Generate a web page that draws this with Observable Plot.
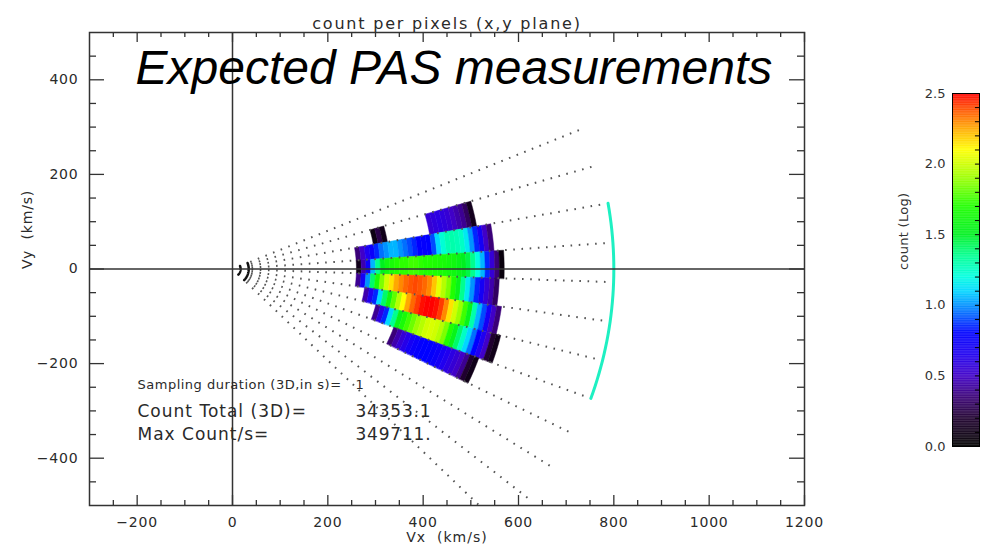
<!DOCTYPE html>
<html><head><meta charset="utf-8">
<script src="https://cdn.jsdelivr.net/npm/d3@7"></script>
<script src="https://cdn.jsdelivr.net/npm/@observablehq/plot@0.6"></script>
<style>
body{margin:0;background:#fff;}
#wrap{position:relative;width:994px;height:552px;background:#fff;}
#wrap svg{position:absolute;left:0;top:0;}
#wrap text{white-space:pre;}
</style></head><body><div id="wrap"></div>
<script>
// ---- axes / ticks ----
const xDomain = [-300, 1200];
const yDomain = [-500, 500];
const xMajorTicks = [-200, 0, 200, 400, 600, 800, 1000, 1200];
const yMajorTicks = [-400, -200, 0, 200, 400];
const colorbarTicks = [0, 0.5, 1.0, 1.5, 2.0, 2.5];

// ---- instrument geometry (degrees, km/s) ----
const rayAngles = [22, 16, 10, 4, -2, -8, -14, -20, -26, -32, -38, -44];
const rayRadius = 790;
const innerArcRadii = [17, 34];
const cyanArc = {r: 800, a0: -20, a1: 10};
const binWidth = 10;

// ---- heat-map sectors: angle range, first radius, log(count) per 10 km/s bin ----
const segAngles = [[10,16],[10,16],[4,10],[-2,4],[-8,-2],[-14,-8],[-20,-14],[-26,-20]];
const segStartR = [300, 420, 260, 260, 260, 280, 310, 360];
const segA1 = [0.08,0.25,0.1];
const segA2 = [0.55,0.58,0.6,0.58,0.55,0.5,0.45,0.4,0.3,0.12];
const segB  = [0.35,0.5,0.65,0.75,0.85,0.95,1.0,1.05,1.05,1.0,0.95,0.9,0.85,0.8,0.78,0.8,0.9,1.1,1.22,1.28,1.3,1.28,1.25,1.15,1.0,0.85,0.7,0.5,0.35];
const segC  = [0.1,0.45,0.75,1.05,1.35,1.5,1.6,1.65,1.7,1.72,1.72,1.75,1.75,1.72,1.7,1.7,1.68,1.66,1.65,1.62,1.6,1.55,1.5,1.45,1.35,1.2,1.05,0.85,0.55,0.35,0.05];
const segD  = [0.4,0.7,1.0,1.4,1.65,1.85,2.0,2.15,2.25,2.3,2.35,2.38,2.4,2.38,2.35,2.3,2.2,2.05,1.95,1.85,1.7,1.55,1.35,1.15,1.0,0.85,0.7,0.55,0.45,0.3];
const segE  = [0.45,0.65,0.85,1.1,1.4,1.6,1.8,1.95,2.1,2.25,2.35,2.42,2.48,2.5,2.5,2.48,2.42,2.3,2.15,2.0,1.9,1.75,1.55,1.3,1.05,0.9,0.7,0.5,0.35];
const segF  = [0.4,0.6,0.85,1.1,1.35,1.55,1.65,1.75,1.82,1.9,1.95,2.0,2.02,2.0,1.95,1.85,1.7,1.55,1.4,1.25,1.1,0.95,0.8,0.65,0.5,0.2,0.1];
const segG  = [0.35,0.45,0.55,0.62,0.7,0.75,0.78,0.8,0.8,0.78,0.75,0.7,0.65,0.6,0.55,0.5,0.4,0.2,0.1];
const segValues = [segA1, segA2, segB, segC, segD, segE, segF, segG];

// ---- colour table (IDL rainbow-like) ----
const cmapStops  = [0, 0.2, 0.35, 0.5, 0.65, 0.8, 0.95, 1.1, 1.2, 1.35, 1.5, 1.7, 1.88, 2.0, 2.1, 2.25, 2.4, 2.5];
const cmapColors = ["#000000","#200030","#3a0078","#4000c8","#2000f0","#0000ff","#0070ff","#00d8ff","#00ffe0","#00ff90","#00f020","#20ff00","#90ff00","#d0ff00","#ffff00","#ffa800","#ff4800","#ff0000"];

// ---- texts ----
const titleText = "count per pixels (x,y plane)";
const bigText = "Expected PAS measurements";
const xLabel = "Vx  (km/s)";
const yLabel = "Vy  (km/s)";
const cbLabel = "count (Log)";
const infoLabels = ["Sampling duration (3D,in s)=   1", "Count Total (3D)=", "Max Count/s="];
const infoValues = ["34353.1", "349711."];

const rad = d => d * Math.PI / 180;
const colorOpts = {type: "linear", domain: cmapStops, range: cmapColors, interpolate: "rgb", clamp: true};

// build cell polygons
const cells = [];
let cid = 0;
segValues.forEach((vals, s) => {
  const [a0, a1] = segAngles[s];
  vals.forEach((v, i) => {
    const r1 = segStartR[s] + i * binWidth, r2 = r1 + binWidth;
    const n = 4;
    for (let k = 0; k <= n; k++) { const a = rad(a0 + (a1 - a0) * k / n); cells.push({id: cid, x: r1 * Math.cos(a), y: r1 * Math.sin(a), v}); }
    for (let k = n; k >= 0; k--) { const a = rad(a0 + (a1 - a0) * k / n); cells.push({id: cid, x: r2 * Math.cos(a), y: r2 * Math.sin(a), v}); }
    cid++;
  });
});

const arcPts = (r, a0, a1, id) => d3.range(0, 31).map(j => { const a = rad(a0 + (a1 - a0) * j / 30); return {id, x: r * Math.cos(a), y: r * Math.sin(a)}; });
const innerArcs = innerArcRadii.flatMap((r, i) => arcPts(r, rayAngles[0], rayAngles[rayAngles.length - 1], i));
const cyanPts = arcPts(cyanArc.r, cyanArc.a0, cyanArc.a1, 0);

const xMinor = d3.range(-250, 1200, 50).filter(d => !xMajorTicks.includes(d));
const yMinor = d3.range(-450, 500, 50).filter(d => !yMajorTicks.includes(d));
const yPerPx = (yDomain[1] - yDomain[0]) / 473;
const xPerPx = (xDomain[1] - xDomain[0]) / 715;

const ink = "#2a2a2a";
const main = Plot.plot({
  width: 994, height: 552,
  marginLeft: 89, marginRight: 190, marginTop: 32, marginBottom: 47,
  x: {domain: xDomain},
  y: {domain: yDomain},
  color: colorOpts,
  style: {fontFamily: "DejaVu Sans", fontSize: "14px", color: ink, background: "transparent"},
  marks: [
    Plot.line(cells, {x: "x", y: "y", z: "id", fill: "v", stroke: "v", strokeWidth: 0.5, curve: "linear-closed", sort: null}),
    Plot.link(rayAngles, {x1: a => 40 * Math.cos(rad(a)), y1: a => 40 * Math.sin(rad(a)),
      x2: a => rayRadius * Math.cos(rad(a)), y2: a => rayRadius * Math.sin(rad(a)),
      stroke: "#555", strokeWidth: 2, strokeDasharray: "1.6,6.6", clip: true}),
    Plot.line(innerArcs, {x: "x", y: "y", z: "id", stroke: "#111", strokeWidth: 2.5}),
    Plot.line(cyanPts, {x: "x", y: "y", stroke: "#1ef0c2", strokeWidth: 3}),
    Plot.ruleX([0], {stroke: "#333", strokeWidth: 1.5}),
    Plot.ruleY([0], {stroke: "#333", strokeWidth: 1.5}),
    // inward ticks
    Plot.ruleX(xMajorTicks, {y1: yDomain[0], y2: yDomain[0] + 10 * yPerPx, stroke: "#333", strokeWidth: 1.3}),
    Plot.ruleX(xMinor, {y1: yDomain[0], y2: yDomain[0] + 5 * yPerPx, stroke: "#333", strokeWidth: 1.3}),
    Plot.ruleX(xMajorTicks, {y1: yDomain[1], y2: yDomain[1] - 10 * yPerPx, stroke: "#333", strokeWidth: 1.3}),
    Plot.ruleX(xMinor, {y1: yDomain[1], y2: yDomain[1] - 5 * yPerPx, stroke: "#333", strokeWidth: 1.3}),
    Plot.ruleY(yMajorTicks, {x1: xDomain[0], x2: xDomain[0] + 15 * xPerPx, stroke: "#333", strokeWidth: 1.3}),
    Plot.ruleY(yMinor, {x1: xDomain[0], x2: xDomain[0] + 7 * xPerPx, stroke: "#333", strokeWidth: 1.3}),
    Plot.ruleY(yMajorTicks, {x1: xDomain[1], x2: xDomain[1] - 15 * xPerPx, stroke: "#333", strokeWidth: 1.3}),
    Plot.ruleY(yMinor, {x1: xDomain[1], x2: xDomain[1] - 7 * xPerPx, stroke: "#333", strokeWidth: 1.3}),
    Plot.frame({stroke: "#333", strokeWidth: 1.5}),
    Plot.axisX(xMajorTicks, {anchor: "bottom", tickSize: 0, tickPadding: 12, label: null, fontSize: 14, tickFormat: d3.format("d")}),
    Plot.axisY(yMajorTicks, {anchor: "left", tickSize: 0, tickPadding: 11, label: null, fontSize: 14, tickFormat: d3.format("d")}),
    Plot.text([titleText], {frameAnchor: "top", dy: -15, fontSize: 16}),
    Plot.text([xLabel], {frameAnchor: "bottom", dy: 36, fontSize: 14}),
    Plot.text([yLabel], {frameAnchor: "left", dx: -62, rotate: -90, fontSize: 14}),
    Plot.text([bigText], {frameAnchor: "top-left", dx: 46, dy: 51, textAnchor: "start", lineAnchor: "bottom",
      fontSize: 48, fontStyle: "italic", fontFamily: "Liberation Sans", fill: "#000"}),
    Plot.text([infoLabels[0]], {frameAnchor: "top-left", dx: 48, dy: 356, textAnchor: "start", lineAnchor: "bottom", fontSize: 13}),
    Plot.text([infoLabels[1]], {frameAnchor: "top-left", dx: 48, dy: 384, textAnchor: "start", lineAnchor: "bottom", fontSize: 17}),
    Plot.text([infoLabels[2]], {frameAnchor: "top-left", dx: 48, dy: 407, textAnchor: "start", lineAnchor: "bottom", fontSize: 17}),
    Plot.text([infoValues[0]], {frameAnchor: "top-left", dx: 266, dy: 384, textAnchor: "start", lineAnchor: "bottom", fontSize: 17}),
    Plot.text([infoValues[1]], {frameAnchor: "top-left", dx: 266, dy: 407, textAnchor: "start", lineAnchor: "bottom", fontSize: 17})
  ]
});

const cbRamp = d3.range(0, 2.5, 0.005);
const cbMinor = d3.range(0.1, 2.45, 0.1);
const cb = Plot.plot({
  width: 994, height: 552,
  marginLeft: 952, marginRight: 15, marginTop: 93, marginBottom: 106,
  x: {domain: [0, 1], axis: null},
  y: {domain: [0, 2.5]},
  color: colorOpts,
  style: {fontFamily: "DejaVu Sans", fontSize: "13px", color: "#333", background: "transparent"},
  marks: [
    Plot.rect(cbRamp, {x1: 0, x2: 1, y1: d => d, y2: d => Math.min(2.5, d + 0.0065), fill: d => d + 0.0025}),
    Plot.ruleY(cbMinor, {x1: 0.85, x2: 1, stroke: "#000"}),
    Plot.frame({stroke: "#000"}),
    Plot.axisY(colorbarTicks, {anchor: "left", tickSize: 0, tickPadding: 7, tickFormat: d3.format(".1f"), label: null, fontSize: 13}),
    Plot.text([cbLabel], {frameAnchor: "left", dx: -49, rotate: -90, fontSize: 13})
  ]
});

const wrap = document.getElementById("wrap");
wrap.appendChild(main);
wrap.appendChild(cb);

// letter spacing to mimic the wide vector font
const spacingRules = [
  [titleText, "1.8px"], [xLabel, "1px"], [yLabel, "0.8px"], [infoLabels[0], "0.5px"],
  [infoLabels[1], "1px"], [infoLabels[2], "1px"], [infoValues[0], "0.8px"], [infoValues[1], "0.8px"], [cbLabel, "0.3px"]
];
d3.select(wrap).selectAll("text").each(function() {
  const t = this.textContent;
  for (const [s, ls] of spacingRules) if (t === s) this.style.letterSpacing = ls;
});
d3.select(main).selectAll("g[aria-label='x-axis tick label'] text, g[aria-label='y-axis tick label'] text").style("letter-spacing", "0.8px");
</script></body></html>
